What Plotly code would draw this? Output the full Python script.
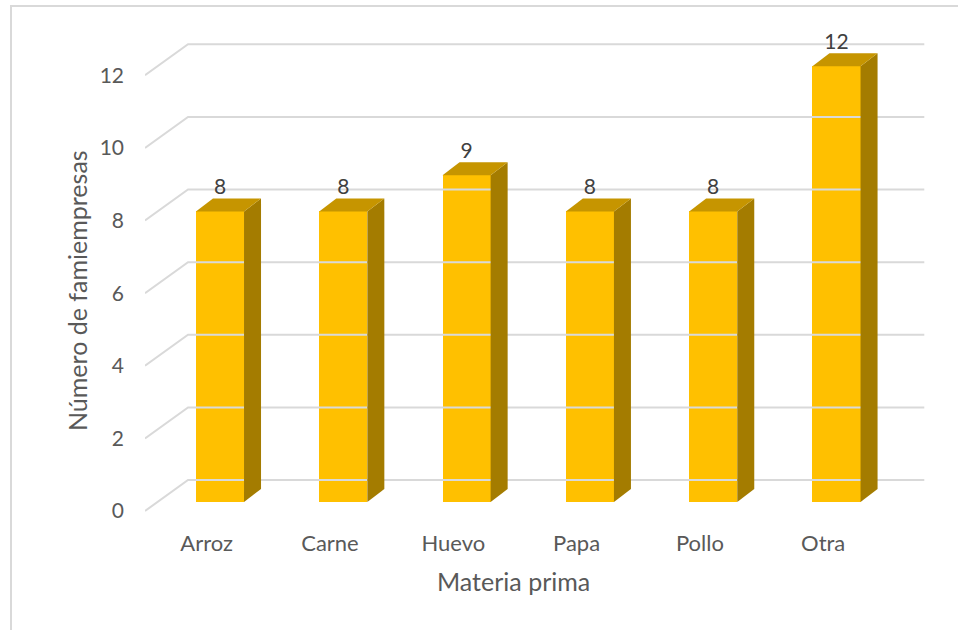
import plotly.graph_objects as go

categories = ["Arroz", "Carne", "Huevo", "Papa", "Pollo", "Otra"]
values = [8, 8, 9, 8, 8, 12]
y_ticks = [0, 2, 4, 6, 8, 10, 12]
x_title = "Materia prima"
y_title = "Número de famiempresas"

FONT = "Lato"
TXT = "#595959"
GRID = "#D9D9D9"
FRONT = "#FFC000"
SIDE = "#A47C00"
TOP = "#C69500"

# pseudo-3D geometry (in axis units)
WALL_DX, WALL_DY = 0.349, 0.854   # back wall offset relative to front plane
BAR_SHIFT, BAR_HALF = 0.108, 0.195
BAR_BASE = 0.25
DEP_DX, DEP_DY = 0.138, 0.358
X_MAX = 5.82

fig = go.Figure()

# gridlines: back wall horizontal + side-wall diagonals
gx, gy = [], []
for v in y_ticks:
    gx += [-0.5, -0.5 + WALL_DX, X_MAX, None]
    gy += [v, v + WALL_DY, v + WALL_DY, None]
fig.add_trace(go.Scatter(x=gx, y=gy, mode="lines", line=dict(color=GRID, width=2),
                         hoverinfo="skip", showlegend=False))

# bars
for i, v in enumerate(values):
    xl = i + BAR_SHIFT - BAR_HALF
    xr = i + BAR_SHIFT + BAR_HALF
    b = BAR_BASE
    t = v + BAR_BASE
    # side face
    fig.add_trace(go.Scatter(
        x=[xr, xr + DEP_DX, xr + DEP_DX, xr, xr],
        y=[b, b + DEP_DY, t + DEP_DY, t, b],
        fill="toself", fillcolor=SIDE, mode="lines", line=dict(width=0, color=SIDE),
        hoverinfo="skip", showlegend=False))
    # top face
    fig.add_trace(go.Scatter(
        x=[xl, xr, xr + DEP_DX, xl + DEP_DX, xl],
        y=[t, t, t + DEP_DY, t + DEP_DY, t],
        fill="toself", fillcolor=TOP, mode="lines", line=dict(width=0, color=TOP),
        hoverinfo="skip", showlegend=False))

# front faces
fig.add_trace(go.Bar(
    x=[i + BAR_SHIFT for i in range(len(values))], y=values, base=BAR_BASE,
    width=2 * BAR_HALF, marker=dict(color=FRONT, line=dict(width=0)),
    showlegend=False, hoverinfo="skip"))

# data labels
fig.add_trace(go.Scatter(
    x=[i + BAR_SHIFT for i in range(len(values))], y=[v + 0.88 for v in values],
    mode="text", text=[str(v) for v in values], textposition="middle center",
    textfont=dict(family=FONT, size=21, color="#404040"), cliponaxis=False,
    hoverinfo="skip", showlegend=False))

fig.update_layout(
    width=958, height=630,
    margin=dict(l=145, r=30, t=35, b=108),
    paper_bgcolor="white", plot_bgcolor="rgba(0,0,0,0)",
    font=dict(family=FONT, size=21, color=TXT),
    bargap=0,
    xaxis=dict(range=[-0.5, 5.85], tickvals=list(range(len(categories))), ticktext=categories,
               showgrid=False, zeroline=False, showline=False, ticks="",
               ticklabelstandoff=6, tickfont=dict(family=FONT, size=22, color=TXT)),
    yaxis=dict(range=[-0.303, 13.11], tickvals=y_ticks, showgrid=False, zeroline=False,
               showline=False, ticks="", ticklabelstandoff=20,
               tickfont=dict(family=FONT, size=21, color=TXT)),
    annotations=[
        dict(text=x_title, xref="paper", yref="paper",
             x=(513 - 145) / 783, y=(522 - 581) / 487, xanchor="center", yanchor="middle",
             showarrow=False, font=dict(family=FONT, size=25, color=TXT)),
        dict(text=y_title, xref="paper", yref="paper", textangle=-90,
             x=(77 - 145) / 783, y=(522 - 291) / 487, xanchor="center", yanchor="middle",
             showarrow=False, font=dict(family=FONT, size=25, color=TXT)),
    ],
    shapes=[
        dict(type="path", xref="paper", yref="paper",
             path=f"M {(11-145)/783},{(522-640)/487} L {(11-145)/783},{(522-6)/487} L {(965-145)/783},{(522-6)/487}",
             line=dict(color=GRID, width=2)),
    ],
)

fig.write_html("out.html")
